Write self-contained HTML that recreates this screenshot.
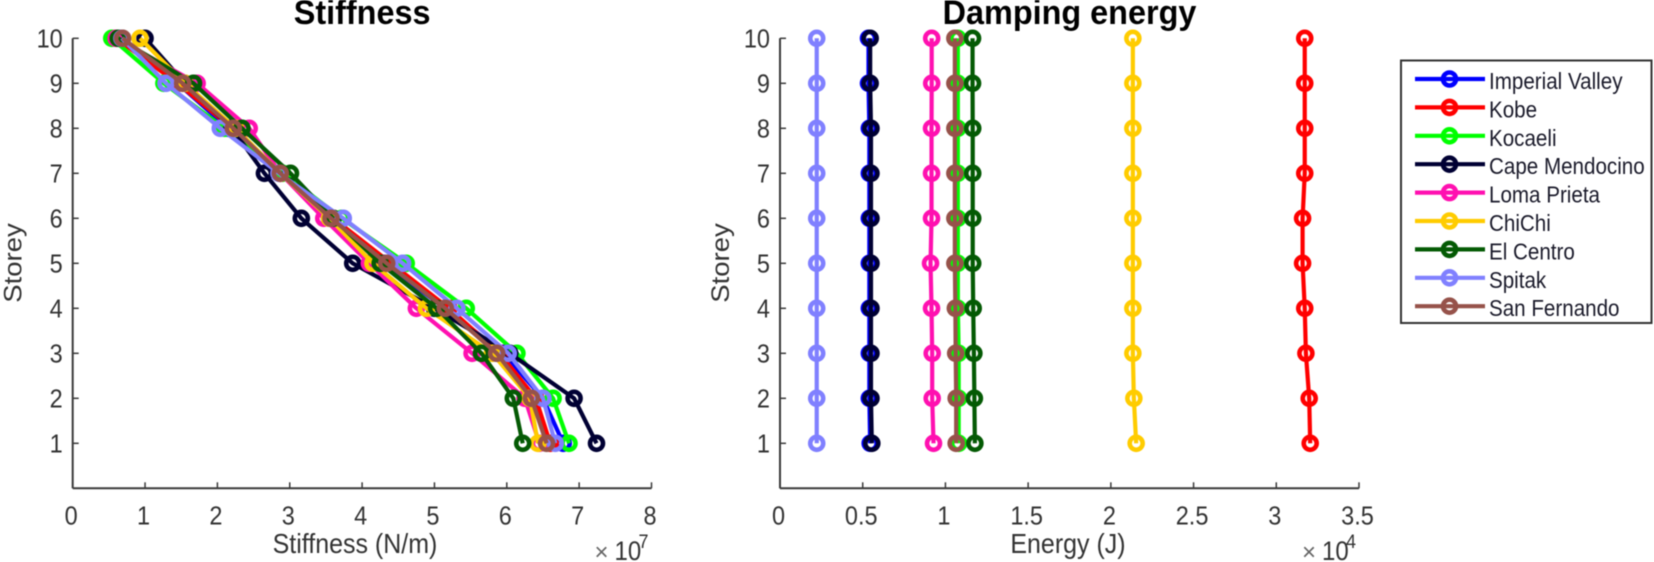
<!DOCTYPE html>
<html>
<head>
<meta charset="utf-8">
<title>Stiffness and damping energy</title>
<style>
html,body{margin:0;padding:0;background:#fff;width:1654px;height:562px;overflow:hidden}
svg{display:block;filter:blur(0.6px)}
text{font-family:"Liberation Sans",sans-serif;fill:#333}
</style>
</head>
<body>
<svg id="chart" xmlns="http://www.w3.org/2000/svg" width="1654" height="562" viewBox="0 0 1654 562"></svg>
<script>
const storeys = [1, 2, 3, 4, 5, 6, 7, 8, 9, 10];
const seriesNames = ['Imperial Valley', 'Kobe', 'Kocaeli', 'Cape Mendocino', 'Loma Prieta', 'ChiChi', 'El Centro', 'Spitak', 'San Fernando'];
const seriesColors = ['#0000ff', '#ff0000', '#00ff00', '#000033', '#ff10b0', '#ffcc00', '#045a04', '#8080ff', '#96524a'];

const stiffnessTicks = [0, 1, 2, 3, 4, 5, 6, 7, 8];
const energyTicks = ['0', '0.5', '1', '1.5', '2', '2.5', '3', '3.5'];
const storeyTicks = [1, 2, 3, 4, 5, 6, 7, 8, 9, 10];

/* Stiffness, x 1e7 N/m, storey 1 to 10 */
const stiffImperial = [6.78, 6.50, 5.95, 5.15, 4.30, 3.55, 2.86, 2.15, 1.45, 0.65];
const stiffKobe     = [6.60, 6.40, 5.90, 5.20, 4.40, 3.60, 2.87, 2.20, 1.45, 0.60];
const stiffKocaeli  = [6.86, 6.64, 6.14, 5.44, 4.61, 3.72, 2.90, 2.10, 1.26, 0.54];
const stiffCape     = [7.24, 6.93, 6.04, 5.00, 3.87, 3.16, 2.65, 2.20, 1.55, 1.00];
const stiffLoma     = [6.45, 6.25, 5.52, 4.75, 4.10, 3.47, 2.87, 2.44, 1.72, 0.60];
const stiffChiChi   = [6.43, 6.32, 5.80, 4.89, 4.15, 3.55, 2.87, 2.25, 1.55, 0.93];
const stiffElCentro = [6.22, 6.09, 5.65, 5.03, 4.25, 3.60, 3.01, 2.34, 1.67, 0.63];
const stiffSpitak   = [6.67, 6.50, 6.02, 5.31, 4.56, 3.74, 2.85, 2.04, 1.29, 0.68];
const stiffSanFern  = [6.55, 6.34, 5.86, 5.15, 4.34, 3.57, 2.87, 2.22, 1.52, 0.69];

/* Damping energy, x 1e4 J, storey 1 to 10 */
const energyImperial = [0.545, 0.54, 0.54, 0.54, 0.54, 0.54, 0.54, 0.54, 0.535, 0.535];
const energyKobe     = [3.205, 3.199, 3.179, 3.172, 3.159, 3.159, 3.172, 3.172, 3.172, 3.172];
const energyKocaeli  = [1.08, 1.08, 1.08, 1.075, 1.075, 1.075, 1.075, 1.075, 1.075, 1.075];
const energyCape     = [0.555, 0.55, 0.55, 0.55, 0.55, 0.55, 0.55, 0.55, 0.545, 0.545];
const energyLoma     = [0.928, 0.92, 0.92, 0.916, 0.91, 0.916, 0.916, 0.916, 0.917, 0.917];
const energyChiChi   = [2.153, 2.139, 2.133, 2.133, 2.133, 2.133, 2.133, 2.133, 2.133, 2.133];
const energyElCentro = [1.178, 1.175, 1.172, 1.168, 1.165, 1.165, 1.165, 1.165, 1.164, 1.164];
const energySpitak   = [0.222, 0.222, 0.222, 0.222, 0.222, 0.222, 0.222, 0.222, 0.222, 0.222];
const energySanFern  = [1.065, 1.065, 1.062, 1.06, 1.057, 1.057, 1.057, 1.057, 1.057, 1.057];

const stiffnessSeries = [stiffImperial, stiffKobe, stiffKocaeli, stiffCape, stiffLoma, stiffChiChi, stiffElCentro, stiffSpitak, stiffSanFern];
const energySeries = [energyImperial, energyKobe, energyKocaeli, energyCape, energyLoma, energyChiChi, energyElCentro, energySpitak, energySanFern];

const svg = document.getElementById('chart');
const NS = 'http://www.w3.org/2000/svg';

function make(tag, attrs, parent, txt) {
  const el = document.createElementNS(NS, tag);
  for (const k in attrs) el.setAttribute(k, attrs[k]);
  if (txt !== undefined) el.textContent = txt;
  parent.appendChild(el);
  return el;
}

/* Text in the reference is slightly stretched vertically */
function place(x, y, sy) { return 'translate(' + x + ',' + y + ') scale(1,' + sy + ')'; }

const top_ = 38.3;
const bottom_ = 488.3;
const lineW = 4.2;
const ringW = 4.6;
const ringR = 6.5;
function yScale(s) { return bottom_ - (s / 10) * (bottom_ - top_); }

function drawPanel(cfg) {
  const g = make('g', {}, svg);
  
  
  const xScale = function (v) { return cfg.x0 + (v / cfg.xMax) * (cfg.x1 - cfg.x0); };

  const axisColor = '#3a3a3a';
  const xAxis = make('line', { x1: cfg.x0, x2: cfg.x1, y1: bottom_, y2: bottom_, stroke: axisColor, 'stroke-width': 2 }, g);
  
  
  const yAxis = make('line', { x1: cfg.x0, x2: cfg.x0, y1: top_, y2: bottom_, stroke: axisColor, 'stroke-width': 2 }, g);
  
  

  cfg.xTicks.forEach(function (t) {
    const px = xScale(Number(t));
    make('line', { x1: px, x2: px, y1: bottom_, y2: bottom_ - 6, stroke: axisColor, 'stroke-width': 1.5 }, g);
    const lab = make('text', { transform: place(px - 1.5, 524.5, 1.1), 'text-anchor': 'middle', 'font-size': 23.5 }, g, t);
    
    
  });
  storeyTicks.forEach(function (t) {
    const py = yScale(t);
    make('line', { x1: cfg.x0, x2: cfg.x0 + 6, y1: py, y2: py, stroke: axisColor, 'stroke-width': 1.5 }, g);
    const lab = make('text', { transform: place(cfg.x0 - 10, py + 9, 1.1), 'text-anchor': 'end', 'font-size': 23.5 }, g, t);
    
    
  });

  const title = make('text', { transform: place((cfg.x0 + cfg.x1) / 2, 24, 1.05), 'text-anchor': 'middle', 'font-size': 32.4, 'font-weight': 'bold', style: 'fill:#000' }, g, cfg.title);
  
  

  const xl = make('text', { transform: place(cfg.xLabelX, 553, 1.1), 'text-anchor': 'middle', 'font-size': 25 }, g, cfg.xLabel);
  
  

  const yl = make('text', { transform: 'translate(' + (cfg.x0 - 51) + ',263) rotate(-90) scale(1.1,1)', 'text-anchor': 'middle', 'font-size': 25 }, g, 'Storey');
  
  

  const ex = make('g', {}, g);
  
  
  make('text', { x: cfg.x1 - 57, y: 560, 'font-size': 24, style: 'fill:#666' }, ex, '\u00d7');
  make('text', { transform: place(cfg.x1 - 37, 560, 1.1), 'font-size': 24 }, ex, '10');
  make('text', { transform: place(cfg.x1 - 13, 548, 1.1), 'font-size': 18 }, ex, cfg.exponent);

  cfg.series.forEach(function (vals, i) {
    const sg = make('g', {}, g);
    
    
    const pts = vals.map(function (v, j) { return xScale(v).toFixed(2) + ',' + yScale(storeys[j]).toFixed(2); }).join(' ');
    make('polyline', { points: pts, fill: 'none', stroke: seriesColors[i], 'stroke-width': lineW, 'stroke-linejoin': 'round' }, sg);
    vals.forEach(function (v, j) {
      make('circle', { cx: xScale(v), cy: yScale(storeys[j]), r: ringR, fill: 'none', stroke: seriesColors[i], 'stroke-width': ringW }, sg);
    });
  });
}

drawPanel({ key: 'stiffness', title: 'Stiffness', xLabel: 'Stiffness (N/m)', xLabelX: 355, exponent: '7', x0: 72.7, x1: 651.5, xMax: 8, xTicks: stiffnessTicks, series: stiffnessSeries });
drawPanel({ key: 'damping', title: 'Damping energy', xLabel: 'Energy (J)', xLabelX: 1068, exponent: '4', x0: 780, x1: 1359, xMax: 3.5, xTicks: energyTicks, series: energySeries });

const legend = make('g', {}, svg);


make('rect', { x: 1401, y: 60.5, width: 250.5, height: 262.5, fill: '#fff', stroke: '#333', 'stroke-width': 2 }, legend);
seriesNames.forEach(function (name, i) {
  const y = 79 + i * 28.4;
  const row = make('g', {}, legend);
  
  
  make('line', { x1: 1415, x2: 1485, y1: y, y2: y, stroke: seriesColors[i], 'stroke-width': lineW }, row);
  make('circle', { cx: 1449.5, cy: y, r: ringR, fill: 'none', stroke: seriesColors[i], 'stroke-width': ringW }, row);
  make('text', { transform: place(1489, y + 10, 1.12), 'font-size': 20.6, style: 'fill:#1a1a2a' }, row, name);
});
</script>
</body>
</html>
